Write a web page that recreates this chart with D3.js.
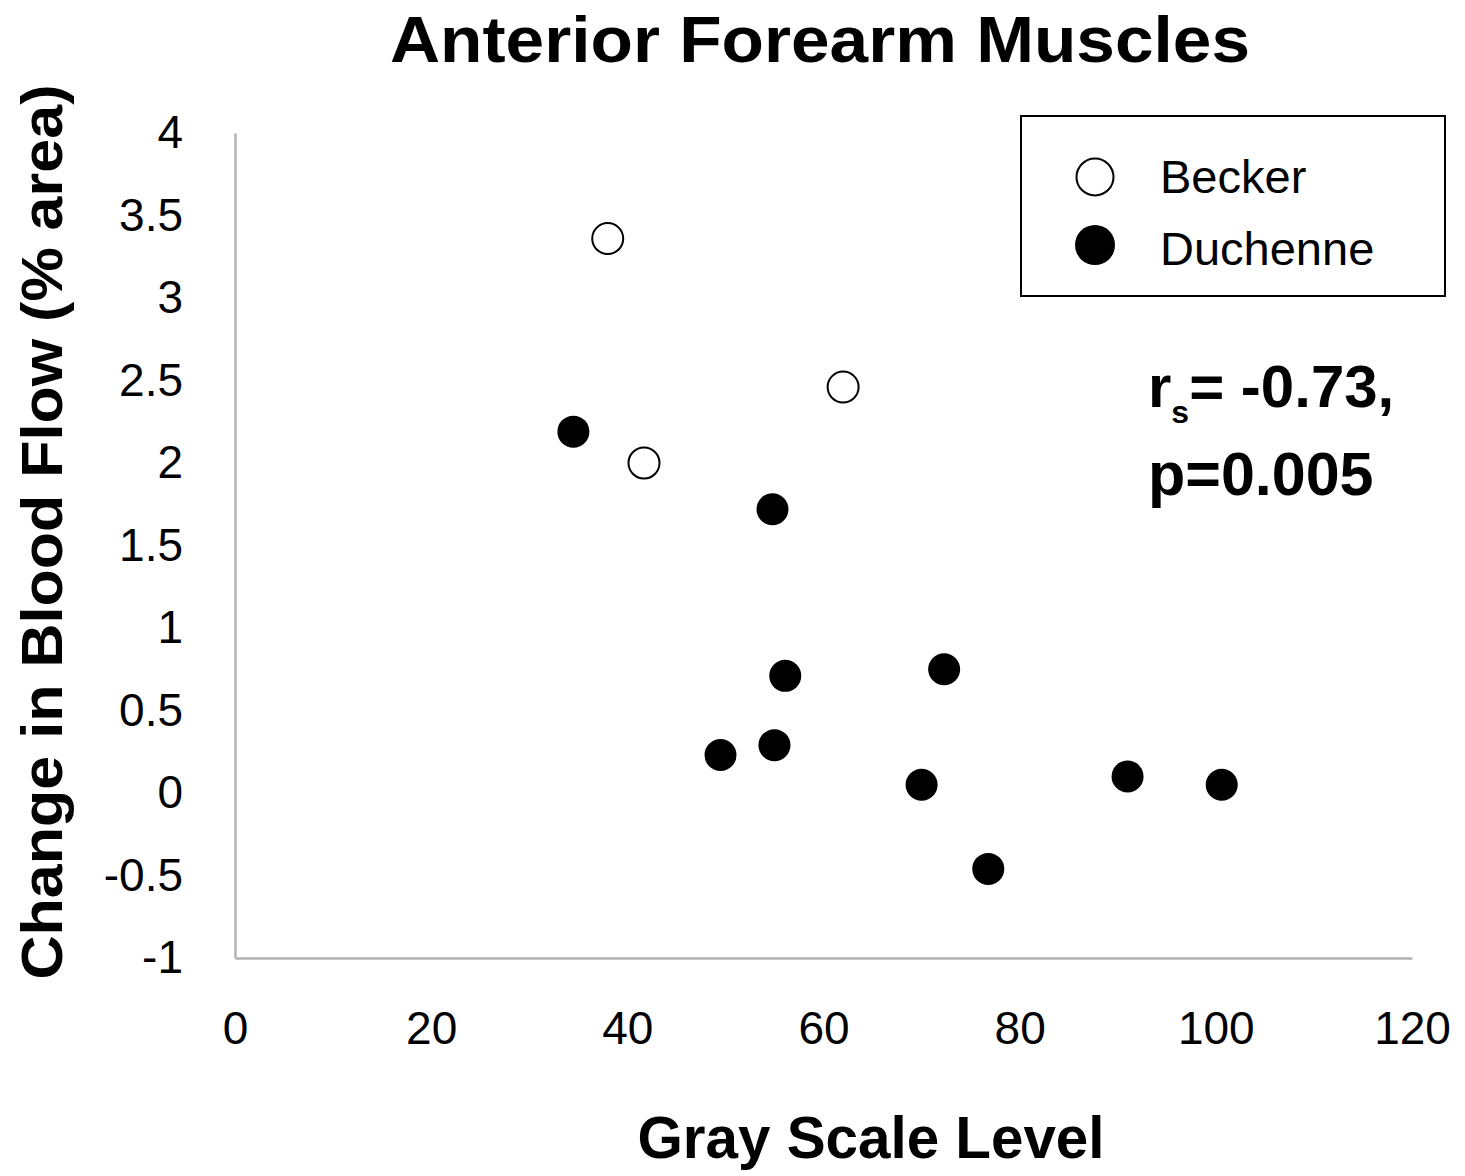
<!DOCTYPE html>
<html>
<head>
<meta charset="utf-8">
<title>Anterior Forearm Muscles</title>
<script src="https://cdn.jsdelivr.net/npm/d3@7"></script>
<style>
  body { margin: 0; background: #fff; }
  text { font-family: "Liberation Sans", Arial, sans-serif; fill: #000; }
</style>
</head>
<body>
<div id="chart"></div>
<script>
// values
var beckerX = [38.0, 62.0, 41.7];
var beckerY = [3.36, 2.46, 2.00];
var duchenneX = [34.5, 54.8, 56.1, 72.3, 49.5, 55.0, 70.0, 91.0, 100.6, 76.8];
var duchenneY = [2.19, 1.72, 0.71, 0.75, 0.23, 0.29, 0.05, 0.10, 0.05, -0.46];
var xTicks = [0, 20, 40, 60, 80, 100, 120];
var yTicks = [-1, -0.5, 0, 0.5, 1, 1.5, 2, 2.5, 3, 3.5, 4];
var seriesNames = ["Becker", "Duchenne"];

function drawChart() {
    var svg = d3.select("#chart").append("svg")
        .attr("width", 1465)
        .attr("height", 1176);

    var x = d3.scaleLinear().domain([0, 120]).range([235, 1412]);
    var y = d3.scaleLinear().domain([-1, 4]).range([958, 133]);

    // axes: plain gray lines, no tick marks
    var xAxis = svg.append("g")
        .attr("transform", "translate(0," + y(-1) + ")")
        .call(d3.axisBottom(x).tickValues(xTicks).tickSize(0).tickPadding(54));
    xAxis.select(".domain").attr("stroke", "#b3b3b3").attr("stroke-width", 2.5);
    xAxis.selectAll("text")
        .style("font-size", "46px")
        .attr("dy", "0.35em")
        .attr("y", 70);

    var yAxis = svg.append("g")
        .attr("transform", "translate(" + x(0) + ",0)")
        .call(d3.axisLeft(y).tickValues(yTicks).tickSize(0).tickPadding(52)
            .tickFormat(function(d) { return String(d); }));
    yAxis.select(".domain").attr("stroke", "#b3b3b3").attr("stroke-width", 2.5);
    yAxis.selectAll("text").style("font-size", "46px");

    // points
    var becker = beckerX.map(function(d, i) { return {x: d, y: beckerY[i]}; });
    var duchenne = duchenneX.map(function(d, i) { return {x: d, y: duchenneY[i]}; });

    svg.selectAll(".duch")
        .data(duchenne)
      .enter().append("circle")
        .attr("class", "duch")
        .attr("cx", function(d) { return x(d.x); })
        .attr("cy", function(d) { return y(d.y); })
        .attr("r", 16)
        .attr("fill", "#000");

    svg.selectAll(".beck")
        .data(becker)
      .enter().append("circle")
        .attr("class", "beck")
        .attr("cx", function(d) { return x(d.x); })
        .attr("cy", function(d) { return y(d.y); })
        .attr("r", 15.5)
        .attr("fill", "#fff")
        .attr("stroke", "#000")
        .attr("stroke-width", 2);

    // title and axis titles
    svg.append("text")
        .attr("x", 820).attr("y", 62)
        .attr("text-anchor", "middle")
        .attr("textLength", 860)
        .attr("lengthAdjust", "spacingAndGlyphs")
        .style("font-size", "64px").style("font-weight", "bold")
        .text("Anterior Forearm Muscles");

    svg.append("text")
        .attr("x", 871).attr("y", 1158)
        .attr("text-anchor", "middle")
        .attr("textLength", 467)
        .attr("lengthAdjust", "spacingAndGlyphs")
        .style("font-size", "60px").style("font-weight", "bold")
        .text("Gray Scale Level");

    svg.append("text")
        .attr("transform", "translate(62,532) rotate(-90)")
        .attr("text-anchor", "middle")
        .attr("textLength", 895)
        .attr("lengthAdjust", "spacingAndGlyphs")
        .style("font-size", "58px").style("font-weight", "bold")
        .text("Change in Blood Flow (% area)");

    // legend
    var legend = svg.append("g");
    legend.append("rect")
        .attr("x", 1021).attr("y", 116)
        .attr("width", 424).attr("height", 180)
        .attr("fill", "#fff").attr("stroke", "#000").attr("stroke-width", 2);
    legend.append("circle")
        .attr("cx", 1095).attr("cy", 177).attr("r", 18.5)
        .attr("fill", "#fff").attr("stroke", "#000").attr("stroke-width", 2);
    legend.append("circle")
        .attr("cx", 1095).attr("cy", 245).attr("r", 20)
        .attr("fill", "#000");
    legend.selectAll(".lab")
        .data(seriesNames)
      .enter().append("text")
        .attr("class", "lab")
        .attr("x", 1160)
        .attr("y", function(d, i) { return 193 + i * 72; })
        .style("font-size", "47px")
        .text(function(d) { return d; });

    // correlation note
    var note = svg.append("text")
        .attr("x", 1148).attr("y", 407)
        .style("font-size", "60px").style("font-weight", "bold");
    note.append("tspan").text("r");
    note.append("tspan").attr("dy", 16).style("font-size", "32px").text("s");
    note.append("tspan").attr("dy", -16).text("= -0.73,");

    svg.append("text")
        .attr("x", 1148).attr("y", 495)
        .style("font-size", "61px").style("font-weight", "bold")
        .text("p=0.005");
}

drawChart();
</script>
</body>
</html>
